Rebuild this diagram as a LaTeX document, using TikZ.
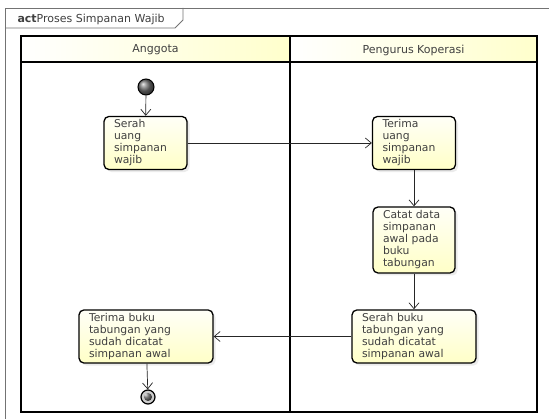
\documentclass[tikz,border=0pt]{standalone}
\usepackage{fontspec}
\setmainfont{DejaVu Sans}
\usetikzlibrary{arrows.meta,shadows}

\begin{document}
\begin{tikzpicture}[x=1pt,y=-1pt,
  act/.style={draw=black,line width=1.3pt,rounded corners=5pt,
    top color=yellow!3,bottom color=yellow!22,
    drop shadow={shadow xshift=2.5pt,shadow yshift=-2.5pt,fill=black!15},
    align=left,inner xsep=10pt,text=black!75,font=\fontsize{10.8}{12}\selectfont},
  lane/.style={draw=black,line width=1.8pt},
  head/.style={text=black!75,font=\fontsize{11}{12}\selectfont},
  flow/.style={->,>={Straight Barb[length=6pt,width=10pt]},line width=0.7pt,draw=black!85}]
\useasboundingbox[fill=white] (0,0) rectangle (549,419);

% frame
\draw[black!55,line width=0.8pt] (5,419) -- (5,8) -- (549,8);
\draw[black!55,line width=0.8pt] (5,28) -- (175,28) -- (183,20) -- (183,8);
\node[head,anchor=west] (T) at (14,19) {\textbf{act}Proses Simpanan Wajib};

% lanes
\fill[left color=white,right color=yellow!20] (21,36) rectangle (290,62);
\fill[left color=white,right color=yellow!20] (290,36) rectangle (537,62);
\draw[lane] (21,36) rectangle (537,412);
\draw[lane] (21,62) -- (537,62);
\draw[lane] (290,36) -- (290,412);
\node[head] (L1) at (155.5,50) {Anggota};
\node[head] (L2) at (413.5,50) {Pengurus Koperasi};

  \node[circle,draw,line width=1pt,ball color=black!55,minimum size=16pt,inner sep=0pt] (S) at (146,87) {};
  \node[act,text width=63pt,minimum height=53pt] (A) at (145.5,143) {Serah\\uang\\simpanan\\wajib};
  \node[act,text width=63pt,minimum height=52pt] (B) at (414,143) {Terima\\uang\\simpanan\\wajib};
  \node[act,text width=62pt,minimum height=66pt] (C) at (414,240) {Catat data\\simpanan\\awal pada\\buku\\tabungan};
  \node[act,text width=104pt,minimum height=53pt] (D) at (414,336.5) {Serah buku\\tabungan yang\\sudah dicatat\\simpanan awal};
  \node[act,text width=114pt,minimum height=53pt] (E) at (146,336.5) {Terima buku\\tabungan yang\\sudah dicatat\\simpanan awal};
  \node[circle,draw,line width=1.2pt,fill=black!20,minimum size=14pt,inner sep=0pt,
    path picture={\fill[ball color=black!70] (path picture bounding box.center) circle (4pt);}] (F) at (148,397) {};

  \path[flow]
		(S) edge (A)
		(A) edge (B)
		(B) edge (C)
		(C) edge (D)
		(D) edge (E)
		(E) edge (F);

\end{tikzpicture}
\end{document}
